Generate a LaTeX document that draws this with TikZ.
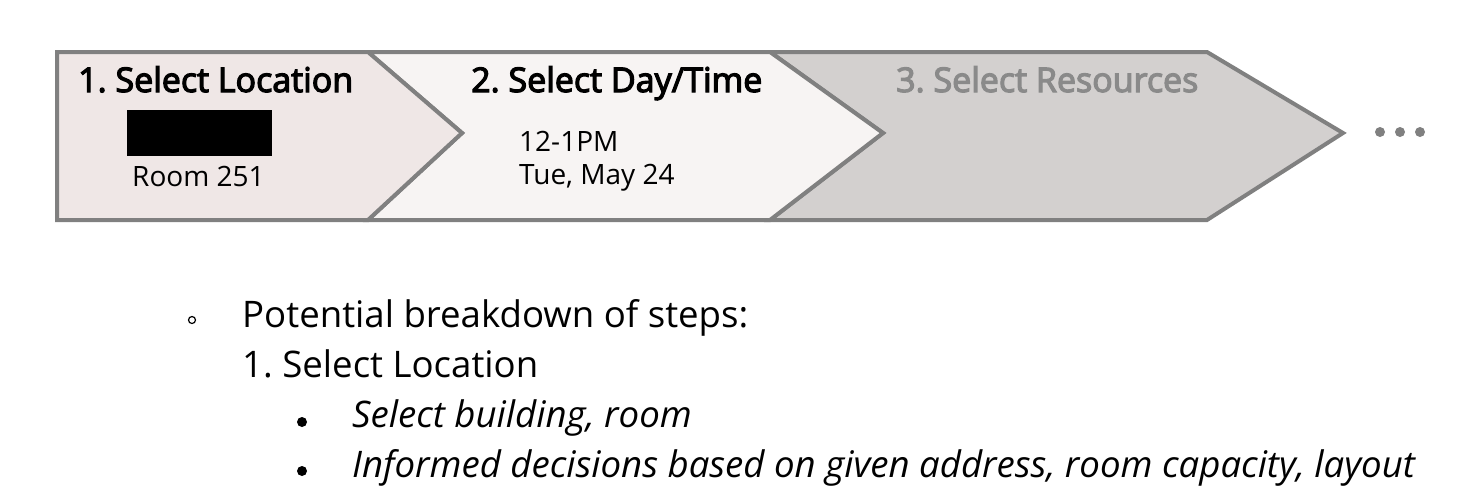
\documentclass[tikz,border=0pt]{standalone}
\usepackage{fontspec}
\setmainfont{Open Sans}
\newfontfamily\headfont{Open Sans}[FakeBold=3.5]
\frenchspacing
\definecolor{edgegray}{HTML}{808080}
\definecolor{stageone}{HTML}{EFE7E6}
\definecolor{stagetwo}{HTML}{F7F4F3}
\definecolor{stagethree}{HTML}{D3D0CF}
\definecolor{fadetext}{HTML}{8A8A8A}
\tikzset{stage/.style={draw=edgegray,line width=4pt,line join=miter},
head/.style={anchor=base west,inner sep=0pt,font=\headfont\fontsize{34}{40}\selectfont},
info/.style={anchor=base west,inner sep=0pt,font=\fontsize{28}{32}\selectfont},
item/.style={anchor=base west,inner sep=0pt,font=\fontsize{36.6}{44}\selectfont}}
\begin{document}
\begin{tikzpicture}[x=1pt,y=-1pt]
\useasboundingbox[fill=white](0,0)rectangle(1468,496);
\draw[stage,fill=stagethree](770,52)--(1207,52)--(1343,133)--(1207,220)--(770,220)--(883,133)--cycle;
\draw[stage,fill=stagetwo](368,52)--(770,52)--(883,133)--(770,220)--(368,220)--(462,133)--cycle;
\draw[stage,fill=stageone](57,52)--(368,52)--(462,133)--(368,220)--(57,220)--cycle;
\node[head](s1)at(78,92){1. Select Location};
\node[head](s2)at(471,92){2. Select Day/Time};
\node[head,text=fadetext](s3)at(896,92){3. Select Resources};
\fill(127,110)rectangle(272,156);
\node[info](room)at(132,186){Room 251};
\node[info](hour)at(519,151){12-1PM};
\node[info](day)at(519,184){Tue, May 24};
\foreach \x in {1380,1400,1420}{\fill[edgegray](\x,132)circle(5);}
\draw[line width=1.2pt](192,320)circle(3.5);
\foreach \y in {422,471}{\fill(302,\y)circle(5);}
\node[item](lead)at(242,327){Potential breakdown of steps:};
\node[item](step)at(242,377){1. Select Location};
\node[item,font=\fontsize{36.6}{44}\selectfont\itshape](pick)at(352,427){Select building, room};
\node[item,font=\fontsize{36.6}{44}\selectfont\itshape](basis)at(352,477){Informed decisions based on given address, room capacity, layout};
\end{tikzpicture}
\end{document}
